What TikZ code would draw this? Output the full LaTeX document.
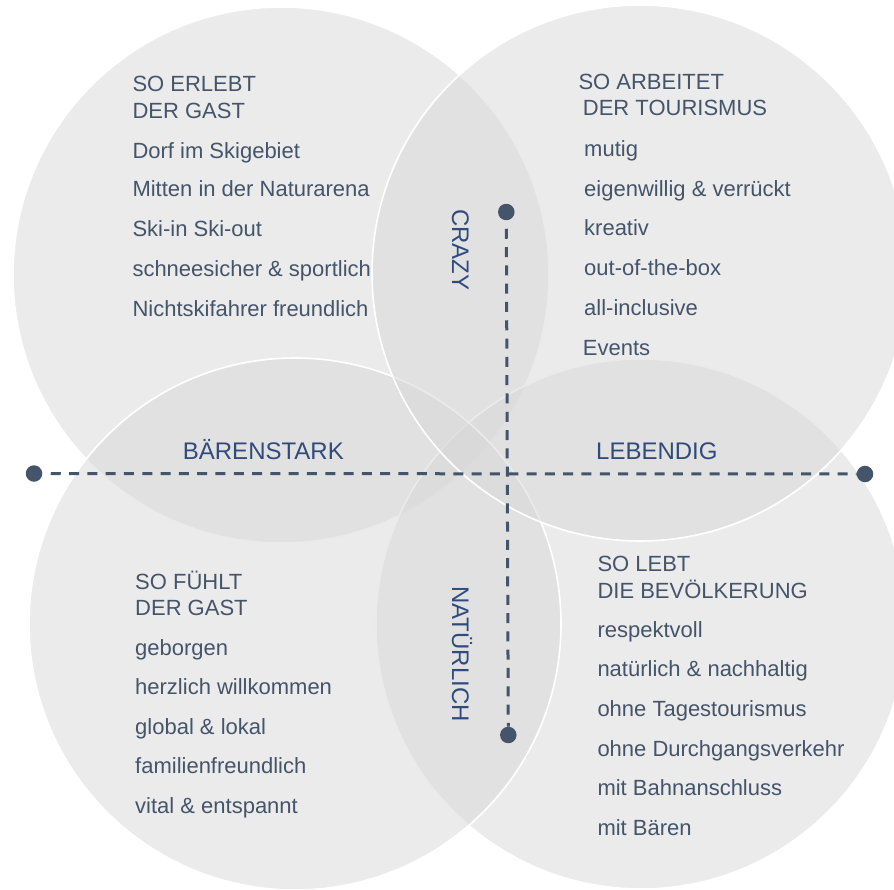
\documentclass[tikz,border=0pt]{standalone}
\usepackage{fontspec}
\setmainfont{Liberation Sans}
\definecolor{slate}{HTML}{44546A}
\definecolor{tagblue}{HTML}{2F4B7C}
\definecolor{bubblegray}{RGB}{215,215,215}
\begin{document}
\begin{tikzpicture}[x=1bp,y=-1bp,
  bubble/.style={fill=bubblegray, fill opacity=0.5, draw=white, line width=1.6bp},
  axisline/.style={draw=slate, line width=3bp, dash pattern=on 10bp off 8.3bp, dash phase=10bp},
  enddot/.style={circle, fill=slate, inner sep=0pt, minimum size=16.5bp},
  item/.style={anchor=base west, inner sep=0pt, text=slate, font=\fontsize{22bp}{26bp}\selectfont},
  tag/.style={anchor=base west, inner sep=0pt, text=tagblue, font=\fontsize{24bp}{28bp}\selectfont},
]
\useasboundingbox (0,0) rectangle (894,890);
\clip (0,0) rectangle (894,890);

% four overlapping circles
\path[bubble] (281,275) circle[radius=268bp];
\path[bubble] (641,624) circle[radius=265bp];
\path[bubble] (295,624) circle[radius=266bp];
\path[bubble] (640,273) circle[radius=268bp];

% axes with end dots
\node[enddot] (hL) at (34,473.5) {};
\node[enddot] (hR) at (865,474) {};
\node[enddot] (vT) at (506.3,212) {};
\node[enddot] (vB) at (508.3,735) {};
\draw[axisline] (hL) -- (hR);
\draw[axisline] (vT) -- (vB);

% top left
\node[item] (tlh1) at (132.3,91.7) {SO ERLEBT};
\node[item] (tlh2) at (132.3,118.3) {DER GAST};
\node[item] (tl1) at (132.3,158.3) {Dorf im Skigebiet};
\node[item] (tl2) at (132.3,196.7) {Mitten in der Naturarena};
\node[item] (tl3) at (132.3,236.7) {Ski-in Ski-out};
\node[item] (tl4) at (132.3,276.7) {schneesicher \& sportlich};
\node[item] (tl5) at (132.3,316) {Nichtskifahrer freundlich};

% top right
\node[item] (trh1) at (578.3,89.3) {SO ARBEITET};
\node[item] (trh2) at (582.7,115) {DER TOURISMUS};
\node[item] (tr1) at (584,156.7) {mutig};
\node[item] (tr2) at (584,196) {eigenwillig \& verrückt};
\node[item] (tr3) at (584,235.7) {kreativ};
\node[item] (tr4) at (584,275) {out-of-the-box};
\node[item] (tr5) at (584,315) {all-inclusive};
\node[item] (tr6) at (582.7,355) {Events};

% bottom left
\node[item] (blh1) at (135,589.3) {SO FÜHLT};
\node[item] (blh2) at (135,615) {DER GAST};
\node[item] (bl1) at (135,655) {geborgen};
\node[item] (bl2) at (135,694) {herzlich willkommen};
\node[item] (bl3) at (135,734.3) {global \& lokal};
\node[item] (bl4) at (135,773.3) {familienfreundlich};
\node[item] (bl5) at (135,813.3) {vital \& entspannt};

% bottom right
\node[item] (brh1) at (597.3,571.7) {SO LEBT};
\node[item] (brh2) at (597.3,598.3) {DIE BEVÖLKERUNG};
\node[item] (br1) at (597.3,637.3) {respektvoll};
\node[item] (br2) at (597.3,676.7) {natürlich \& nachhaltig};
\node[item] (br3) at (597.3,716.7) {ohne Tagestourismus};
\node[item] (br4) at (597.3,756.7) {ohne Durchgangsverkehr};
\node[item] (br5) at (597.3,795.7) {mit Bahnanschluss};
\node[item] (br6) at (597.3,835) {mit Bären};

% overlap labels
\node[tag] (strong) at (182.7,459.3) {BÄRENSTARK};
\node[tag] (lively) at (596,459.3) {LEBENDIG};
\node[tag, rotate=-90] (crazy) at (452,209) {CRAZY};
\node[tag, rotate=-90] (natural) at (452,586) {NATÜRLICH};
\end{tikzpicture}
\end{document}
